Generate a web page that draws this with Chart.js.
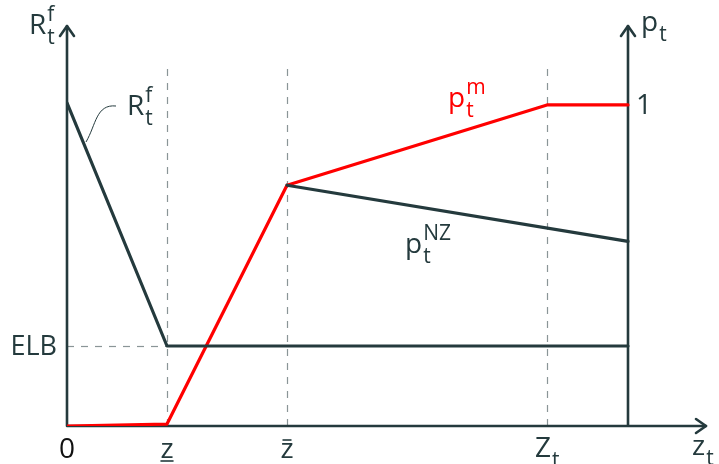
<!DOCTYPE html>
<html>
<head>
<meta charset="utf-8">
<script src="https://cdn.jsdelivr.net/npm/chart.js@4.4.1/dist/chart.umd.min.js"></script>
<style>
  html, body { margin: 0; padding: 0; background: #fff; }
  #wrap { width: 719px; height: 464px; }
</style>
</head>
<body>
<div id="wrap"><canvas id="chart"></canvas></div>
<script>
// z-axis knots: 0, lower threshold z, upper threshold z-bar, Z_t, and the right edge
const zKnots = [0, 1, 2.2, 4.8, 5.61];
const xMax = 6.39;

// left axis (policy rate) values
const rfX = [0, 1, 5.61];
const rfY = [4.04, 1, 1];
const elb = 1;
const yMax = 5;

// right axis (probabilities) values
const pmX = [0, 1, 2.2, 4.8, 5.61];
const pmY = [0, 0.006, 0.75, 1, 1];
const nzX = [2.2, 5.61];
const nzY = [0.75, 0.575];
const pMax = 1.246;

// tick labels along z
const xTickVals = [0, 1, 2.2, 4.8];
const xTickLabels = ['0', 'z', 'z', 'Z'];

const DARK = '#243a3d';
const RED = '#ff0000';
const FONT = '"Open Sans", "Noto Sans", sans-serif';

const pts = (xs, ys) => xs.map((x, i) => ({ x: x, y: ys[i] }));

function symbol(ctx, x, y, base, sub, sup, color, size) {
  ctx.fillStyle = color;
  ctx.textAlign = 'left';
  ctx.textBaseline = 'alphabetic';
  ctx.font = size + 'px ' + FONT;
  ctx.fillText(base, x, y);
  const w = ctx.measureText(base).width;
  const s = Math.round(size * 0.74);
  ctx.font = s + 'px ' + FONT;
  if (sub) ctx.fillText(sub, x + w + 1, y + Math.round(size * 0.36));
  if (sup) ctx.fillText(sup, x + w + 1, y - Math.round(size * 0.45));
}

function arrowHead(ctx, x, y, dir) {
  ctx.beginPath();
  if (dir === 'up') {
    ctx.moveTo(x - 7, y + 10); ctx.lineTo(x, y); ctx.lineTo(x + 7, y + 10);
  } else {
    ctx.moveTo(x - 10, y - 7); ctx.lineTo(x, y); ctx.lineTo(x - 10, y + 7);
  }
  ctx.stroke();
}

const frame = {
  id: 'frame',
  beforeDatasetsDraw(chart) {
    const { ctx, scales } = chart;
    const x = scales.x, y = scales.y;
    const x0 = x.getPixelForValue(0);
    const xr = x.getPixelForValue(zKnots[4]);
    const y0 = y.getPixelForValue(0);
    const top = y.getPixelForValue(yMax);
    ctx.save();

    // dashed guides
    ctx.strokeStyle = '#8a9597';
    ctx.lineWidth = 1.2;
    ctx.setLineDash([7, 7]);
    [zKnots[1], zKnots[2], zKnots[3]].forEach(v => {
      const px = Math.round(x.getPixelForValue(v)) + 0.5;
      ctx.beginPath();
      ctx.moveTo(px, y0);
      ctx.lineTo(px, y.getPixelForValue(4.5));
      ctx.stroke();
    });
    const ye = Math.round(y.getPixelForValue(elb)) + 0.5;
    ctx.beginPath();
    ctx.moveTo(x0, ye);
    ctx.lineTo(x.getPixelForValue(zKnots[1]), ye);
    ctx.stroke();
    ctx.setLineDash([]);

    // axes with arrows
    ctx.strokeStyle = DARK;
    ctx.lineWidth = 2.6;
    ctx.lineCap = 'round';
    ctx.lineJoin = 'round';
    ctx.beginPath();
    ctx.moveTo(x0, y0); ctx.lineTo(x0, top);
    ctx.moveTo(xr, y0); ctx.lineTo(xr, top);
    ctx.moveTo(x0, y0); ctx.lineTo(x.getPixelForValue(xMax), y0);
    ctx.stroke();
    arrowHead(ctx, x0, top, 'up');
    arrowHead(ctx, xr, top, 'up');
    arrowHead(ctx, x.getPixelForValue(xMax), y0, 'right');
    ctx.restore();
  },
  afterDraw(chart) {
    const { ctx, scales } = chart;
    const x = scales.x, y = scales.y, y1 = scales.y1;
    ctx.save();

    // axis titles
    symbol(ctx, 29, 34, 'R', 't', 'f', DARK, 28);
    symbol(ctx, 641, 31, 'p', 't', '', DARK, 28);
    symbol(ctx, 692, 455, 'z', 't', '', DARK, 28);

    // left/right axis marks
    ctx.font = '27px ' + FONT;
    ctx.fillStyle = DARK;
    ctx.textAlign = 'right';
    ctx.textBaseline = 'middle';
    ctx.fillText('ELB', 57, y.getPixelForValue(elb) + 1);
    ctx.textAlign = 'left';
    ctx.font = '28px ' + FONT;
    ctx.fillText('1', 636, y1.getPixelForValue(1) + 1);

    // z tick labels
    xTickVals.forEach((v, i) => {
      const px = x.getPixelForValue(v);
      const lab = xTickLabels[i];
      ctx.font = '28px ' + FONT;
      ctx.fillStyle = i === 0 ? '#111' : DARK;
      ctx.textAlign = 'center';
      ctx.textBaseline = 'alphabetic';
      if (i === 3) {
        symbol(ctx, px - 12, 457, lab, 't', '', DARK, 28);
        return;
      }
      ctx.fillText(lab, px, 458);
      const w = ctx.measureText(lab).width;
      ctx.strokeStyle = DARK;
      ctx.lineWidth = 1.6;
      if (i === 1) {
        ctx.beginPath(); ctx.moveTo(px - w / 2, 461); ctx.lineTo(px + w / 2, 461); ctx.stroke();
      } else if (i === 2) {
        ctx.beginPath(); ctx.moveTo(px - 4.5, 440); ctx.lineTo(px + 4.5, 440); ctx.stroke();
      }
    });

    // series labels
    symbol(ctx, 127, 115, 'R', 't', 'f', DARK, 28);
    symbol(ctx, 448, 107, 'p', 't', 'm', RED, 28);
    symbol(ctx, 405, 253, 'p', 't', 'NZ', DARK, 28);

    // leader from the R label to its line
    ctx.strokeStyle = DARK;
    ctx.lineWidth = 1;
    ctx.beginPath();
    ctx.moveTo(x.getPixelForValue(0.19), y.getPixelForValue(3.55));
    ctx.bezierCurveTo(96, 125, 96, 104, 116, 106);
    ctx.stroke();
    ctx.restore();
  }
};

new Chart(document.getElementById('chart'), {
  type: 'line',
  data: {
    datasets: [
      { label: 'Rf', data: pts(rfX, rfY), yAxisID: 'y', borderColor: DARK, borderWidth: 3.2 },
      { label: 'pNZ', data: pts(nzX, nzY), yAxisID: 'y1', borderColor: DARK, borderWidth: 3.2 },
      { label: 'pm', data: pts(pmX, pmY), yAxisID: 'y1', borderColor: RED, borderWidth: 3.2 }
    ]
  },
  options: {
    responsive: true,
    maintainAspectRatio: false,
    animation: false,
    layout: { padding: { left: 67, right: 13, top: 26, bottom: 38 } },
    elements: { point: { radius: 0 }, line: { tension: 0, borderJoinStyle: 'round', borderCapStyle: 'round' } },
    plugins: { legend: { display: false }, tooltip: { enabled: false } },
    scales: {
      x: { type: 'linear', min: 0, max: xMax, display: false },
      y: { type: 'linear', min: 0, max: yMax, display: false },
      y1: { type: 'linear', min: 0, max: pMax, display: false }
    }
  },
  plugins: [frame]
});
</script>
</body>
</html>
